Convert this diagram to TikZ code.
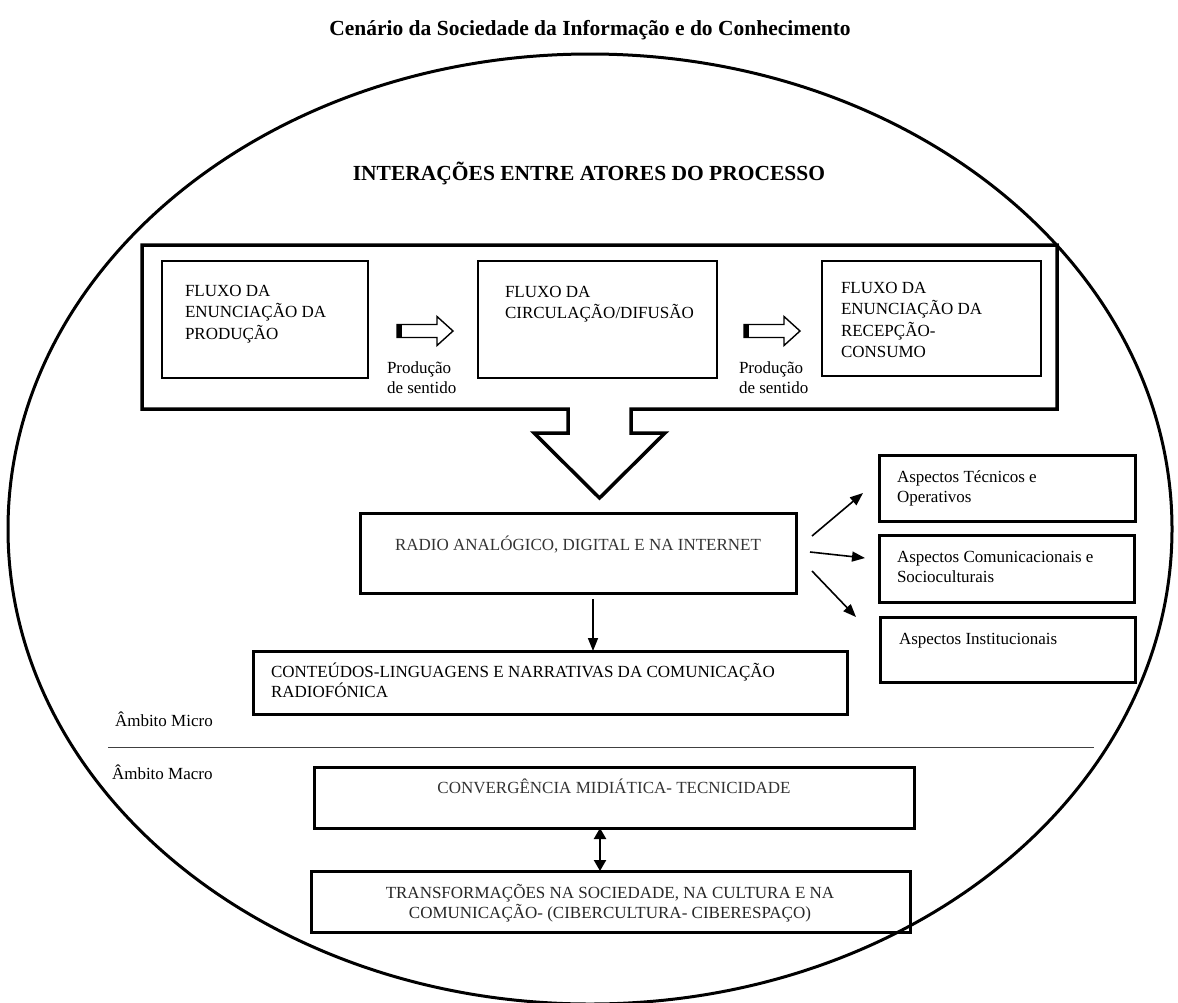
\documentclass[tikz,border=0pt]{standalone}
\usepackage{fontspec}
\setmainfont{Liberation Serif}
\usetikzlibrary{arrows.meta,calc}

% stacked lines, baseline of the first line
\newcommand\linesL[1]{\vtop{\halign{##\hfil\cr#1\crcr}}}
\newcommand\linesC[1]{\vtop{\halign{\hfil##\hfil\cr#1\crcr}}}

\tikzset{
  txt/.style={inner sep=0pt, outer sep=0pt, font=\fontsize{17}{20.5}\selectfont},
  txttop/.style={txt, font=\fontsize{17}{21.5}\selectfont},
  head/.style={inner sep=0pt, font=\bfseries\fontsize{21.5}{25}\selectfont},
  box/.style={draw, inner sep=0pt, outer sep=0pt, line width=3pt},
  thinbox/.style={box, line width=1.4pt},
  frame/.style={line width=3.5pt, line join=miter},
  hollowarr/.style={draw, line width=1.4pt, line join=miter},
  arr/.style={line width=1.6pt, -{Triangle[length=13pt,width=10pt]}},
  dblarr/.style={line width=2.2pt, {Triangle[length=11pt,width=12pt]}-{Triangle[length=11pt,width=12pt]}},
}

\begin{document}
\begin{tikzpicture}[x=1pt,y=-1pt]
\useasboundingbox (0,0) rectangle (1178,1002);
\clip (0,0) rectangle (1178,1002);

% scenario oval
\draw[line width=3pt] (590,529) ellipse [x radius=582, y radius=475];

% headings
\node[head, anchor=base] (titulo) at (590,35)
  {Cenário da Sociedade da Informação e do Conhecimento};
\node[head, anchor=base] (atores) at (589,180)
  {INTERAÇÕES ENTRE ATORES DO PROCESSO};

% frame of the three flows, opening into the large block arrow
\draw[frame] (142,245) -- (1057,245) -- (1057,409) -- (631,409) -- (631,433)
  -- (665,433) -- (599.5,498) coordinate (bigtip) -- (534,433) -- (568,433)
  -- (568,409) -- (142,409) -- cycle;

% the three flows
\node[thinbox, minimum width=206pt, minimum height=117pt] (prod) at (265,319.5) {};
\node[thinbox, minimum width=239pt, minimum height=117pt] (circ) at (597.5,319.5) {};
\node[box, line width=2.2pt, minimum width=219pt, minimum height=115pt] (recep) at (931.5,318.5) {};

\node[txttop, anchor=base west] (tprod) at (185,296)
  {\linesL{FLUXO DA\cr ENUNCIAÇÃO DA\cr PRODUÇÃO}};
\node[txttop, anchor=base west] (tcirc) at (505,297)
  {\linesL{FLUXO DA\cr CIRCULAÇÃO/DIFUSÃO}};
\node[txttop, anchor=base west] (trecep) at (841,293)
  {\linesL{FLUXO DA\cr ENUNCIAÇÃO DA\cr RECEPÇÃO-\cr CONSUMO}};

% hollow arrows between the flows, with a solid tail
\foreach \name/\x in {seta1/397, seta2/744}{
  \coordinate (\name) at (\x,331);
  \draw[hollowarr] (\name) ++(0,-6.5) -- ++(40,0) -- ++(0,-8) -- ++(16,14.5)
    -- ++(-16,14.5) -- ++(0,-8) -- ++(-40,0) -- cycle;
  \fill (\name) ++(0,-6.5) rectangle ++(4.5,13);
}

\node[txt, anchor=base west] (sent1) at (387,373) {\linesL{Produção\cr de sentido}};
\node[txt, anchor=base west] (sent2) at (739,373) {\linesL{Produção\cr de sentido}};

% radio
\node[box, minimum width=436pt, minimum height=80pt] (radio) at (578,553) {};
\node[txt, anchor=base, text=black!80] (tradio) at (578,550)
  {RADIO ANALÓGICO, DIGITAL E NA INTERNET};

% aspects
\node[box, minimum width=256pt, minimum height=66pt] (tec) at (1007,488) {};
\node[box, minimum width=255pt, minimum height=67pt] (com) at (1006.5,568.5) {};
\node[box, minimum width=255pt, minimum height=65pt] (inst) at (1007.5,649.5) {};
\node[txt, anchor=base west] (ttec) at (897,482) {\linesL{Aspectos Técnicos e\cr Operativos}};
\node[txt, anchor=base west] (tcom) at (897,562) {\linesL{Aspectos Comunicacionais e\cr Socioculturais}};
\node[txt, anchor=base west] (tinst) at (899,644) {Aspectos Institucionais};

\coordinate (r1) at (812,536);
\coordinate (r2) at (810,552);
\coordinate (r3) at (812,571);
\draw[arr] (r1) -- (863,493) coordinate (e1);
\draw[arr] (r2) -- (865,558) coordinate (e2);
\draw[arr] (r3) -- (856,617) coordinate (e3);

% contents
\node[box, minimum width=594pt, minimum height=63pt] (cont) at (550,682.5) {};
\node[txt, anchor=base west] (tcont) at (271,677)
  {\linesL{CONTEÚDOS-LINGUAGENS E NARRATIVAS DA COMUNICAÇÃO\cr RADIOFÓNICA}};
\coordinate (ds) at ([xshift=15pt,yshift=-6pt]radio.south);
\draw[arr] (ds) -- (ds |- cont.north);

% micro / macro divide
\node[txt, anchor=base west] (micro) at (115,726) {Âmbito Micro};
\node[txt, anchor=base west] (macro) at (112,779) {Âmbito Macro};
\coordinate (divA) at (108,747);
\coordinate (divB) at (1094,747);
\draw[line width=1pt, black!75] (divA) -- (divB);

% macro level
\node[box, minimum width=600pt, minimum height=61pt] (conv) at (614,797.5) {};
\node[txt, anchor=base, text=black!80] (tconv) at (614,793)
  {CONVERGÊNCIA MIDIÁTICA- TECNICIDADE};
\node[box, minimum width=599pt, minimum height=61pt] (trans) at (610.5,901.5) {};
\node[txt, anchor=base, text=black!85] (ttrans) at (610,898)
  {\linesC{TRANSFORMAÇÕES NA SOCIEDADE, NA CULTURA E NA\cr COMUNICAÇÃO- (CIBERCULTURA- CIBERESPAÇO)}};
\coordinate (dd) at (600,850);
\draw[dblarr] (dd |- conv.south) -- (dd |- trans.north);
\end{tikzpicture}
\end{document}
